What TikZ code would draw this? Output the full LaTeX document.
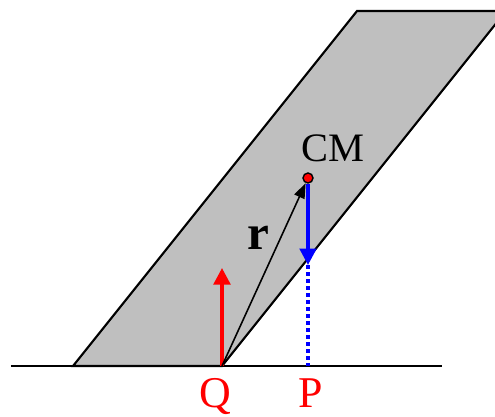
\documentclass[tikz,border=0pt]{standalone}
\usepackage{fontspec}
\setmainfont{Liberation Serif}
\usetikzlibrary{arrows.meta}

\begin{document}
\begin{tikzpicture}[
x=0.02cm, y=-0.02cm,
force/.style={
line width=2pt,
-{Triangle[length=3.3mm, width=3.3mm]}
},
lbl/.style={
inner sep=0pt,
font=\fontsize{23}{26}\selectfont
}
]

\useasboundingbox (0,0) rectangle (495,417);

\coordinate (Q) at (222,366);
\coordinate (P) at (308,366);
\coordinate (foot) at (308,265);
\coordinate (up) at (222,268);

% tilted slab
\begin{scope}
\clip (0,0) rectangle (495,417);
\draw[line width=1.2pt, fill=black!25]
(73,366) -- (Q) -- (506,11) -- (357,11) -- cycle;
\end{scope}

% ground
\draw[line width=1.2pt] (11,366) -- (442,366);

\node[circle, draw, fill=red, line width=0.8pt,
minimum size=0.2cm, inner sep=0pt] (cm) at (308,178) {};

\draw[force, red] (Q) -- (up);

\draw[line width=0.9pt, -{Triangle[length=3mm, width=2.2mm]}]
(Q) -- (cm);

\draw[blue, line width=2pt, dash pattern=on 2pt off 2pt] (foot) -- (P);
\draw[force, blue] (cm) -- (foot);

\node[lbl] (cmlabel) at (333,148) {CM};
\node[lbl, font=\fontsize{28}{30}\selectfont\bfseries] (rlabel) at (258,238) {r};
\node[lbl, red, anchor=base, font=\fontsize{25}{28}\selectfont] (qlabel) at (215,407) {Q};
\node[lbl, red, anchor=base, font=\fontsize{25}{28}\selectfont] (plabel) at (311,407) {P};

\end{tikzpicture}
\end{document}
